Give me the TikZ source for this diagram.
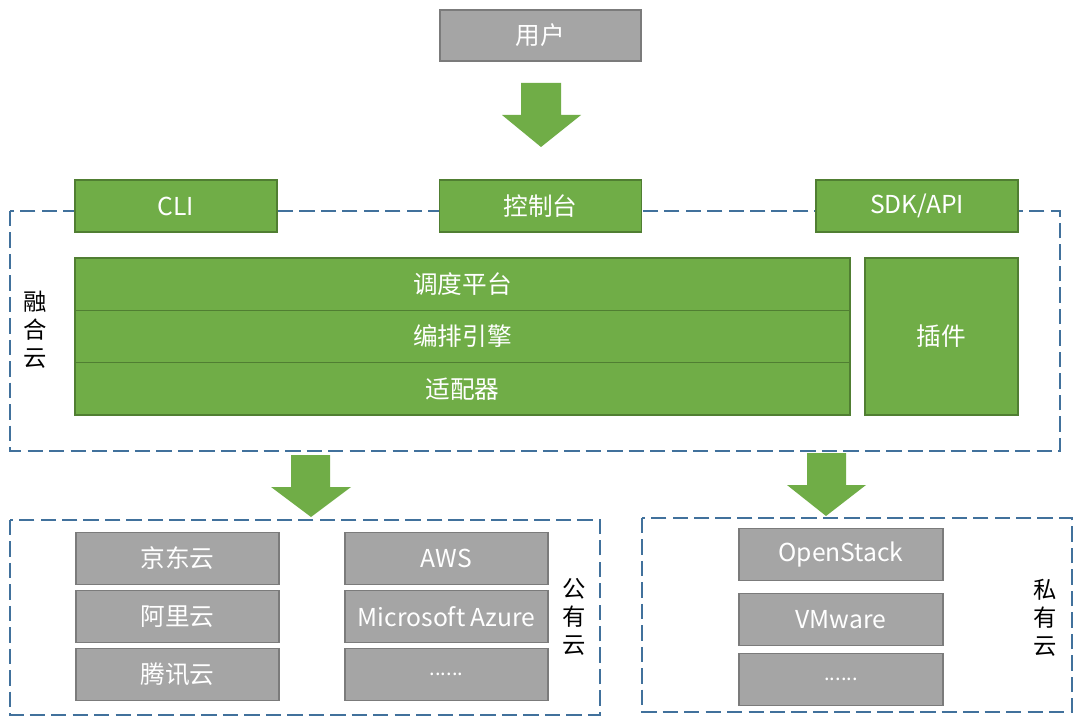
\documentclass[tikz,border=0pt]{standalone}
\usepackage{fontspec}
\setmainfont{Noto Sans CJK SC}
\begin{document}
\begin{tikzpicture}[x=0.75pt,y=-0.75pt,
  greenbox/.style={draw=gbdraw, fill=gbfill, line width=0.9pt, text=white, inner sep=0pt, font=\fontsize{18.5}{22}\selectfont},
  graybox/.style={draw=gbborder, fill=gyfill, line width=0.9pt, text=white, inner sep=0pt, font=\fontsize{18.5}{22}\selectfont},
  dotsbox/.style={graybox, font=\fontsize{15}{18}\selectfont},
  dashbox/.style={draw=dashblue, line width=1.5pt, dash pattern=on 11.5pt off 4.6pt},
  blockarrow/.style={fill=gbfill, draw=none},
  vlabel/.style={font=\fontsize{17.5}{21}\selectfont, align=center, inner sep=0pt, text=black}
]
\definecolor{gbfill}{HTML}{70AD47}
\definecolor{gbdraw}{HTML}{507E32}
\definecolor{gyfill}{HTML}{A5A5A5}
\definecolor{gbborder}{HTML}{7B7B7B}
\definecolor{dashblue}{HTML}{41719C}
\useasboundingbox (0,0) rectangle (1089,727);
\fill[white] (0,0) rectangle (1089,727);

% user
\node[graybox, minimum width=150.75pt, minimum height=38.25pt] (user) at (540.5,35.5) {用户};

% arrow 1
\coordinate (a1) at (541,147);
\fill[blockarrow] (521,83) -- (561,83) -- (561,115) -- (581,115) -- (a1) -- (502,115) -- (521,115) -- cycle;

% fusion cloud frame
\draw[dashbox] (10,211) rectangle (1060,451);
\node[vlabel] (fusion) at (35,330) {融\\合\\云};

% top boxes
\node[greenbox, minimum width=151.5pt, minimum height=39pt] (cli) at (176,206) {CLI};
\node[greenbox, minimum width=151.5pt, minimum height=39pt] (console) at (540.5,206) {控制台};
\node[greenbox, minimum width=151.5pt, minimum height=39pt] (sdk) at (917,206) {SDK/API};

% stack
\node[greenbox, minimum width=581.25pt, minimum height=39.25pt] (sched) at (462.5,284.2) {调度平台};
\node[greenbox, minimum width=581.25pt, minimum height=39.25pt] (orch) at (462.5,336.5) {编排引擎};
\node[greenbox, minimum width=581.25pt, minimum height=39.25pt] (adapt) at (462.5,388.8) {适配器};
\node[greenbox, minimum width=114.75pt, minimum height=117.75pt] (plugin) at (941.5,336.5) {插件};

% arrows down
\coordinate (a2) at (311,517);
\fill[blockarrow] (291,455) -- (330,455) -- (330,487) -- (351,487) -- (a2) -- (271,487) -- (291,487) -- cycle;
\coordinate (a3) at (826,516);
\fill[blockarrow] (807,453) -- (846,453) -- (846,485) -- (866,485) -- (a3) -- (787,485) -- (807,485) -- cycle;

% public cloud
\draw[dashbox] (10,520) rectangle (600,715);
\node[vlabel] (public) at (574,617) {公\\有\\云};
\node[graybox, minimum width=152.25pt, minimum height=39pt] (jd) at (177.5,558.3) {京东云};
\node[graybox, minimum width=152.25pt, minimum height=39pt] (ali) at (177.5,616.3) {阿里云};
\node[graybox, minimum width=152.25pt, minimum height=39pt] (tx) at (177.5,674.3) {腾讯云};
\node[graybox, minimum width=152.25pt, minimum height=39pt] (aws) at (446.5,558.3) {AWS};
\node[graybox, minimum width=152.25pt, minimum height=39pt] (azure) at (446.5,616.3) {Microsoft Azure};
\node[dotsbox, minimum width=152.25pt, minimum height=39pt] (pubmore) at (446.5,674.3) {......};

% private cloud
\draw[dashbox] (642,518) rectangle (1072,712);
\node[vlabel] (private) at (1045,618) {私\\有\\云};
\node[graybox, minimum width=153pt, minimum height=39pt] (os) at (841,554.3) {OpenStack};
\node[graybox, minimum width=153pt, minimum height=39pt] (vm) at (841,619.3) {VMware};
\node[dotsbox, minimum width=153pt, minimum height=39pt] (privmore) at (841,679.3) {......};
\end{tikzpicture}
\end{document}
